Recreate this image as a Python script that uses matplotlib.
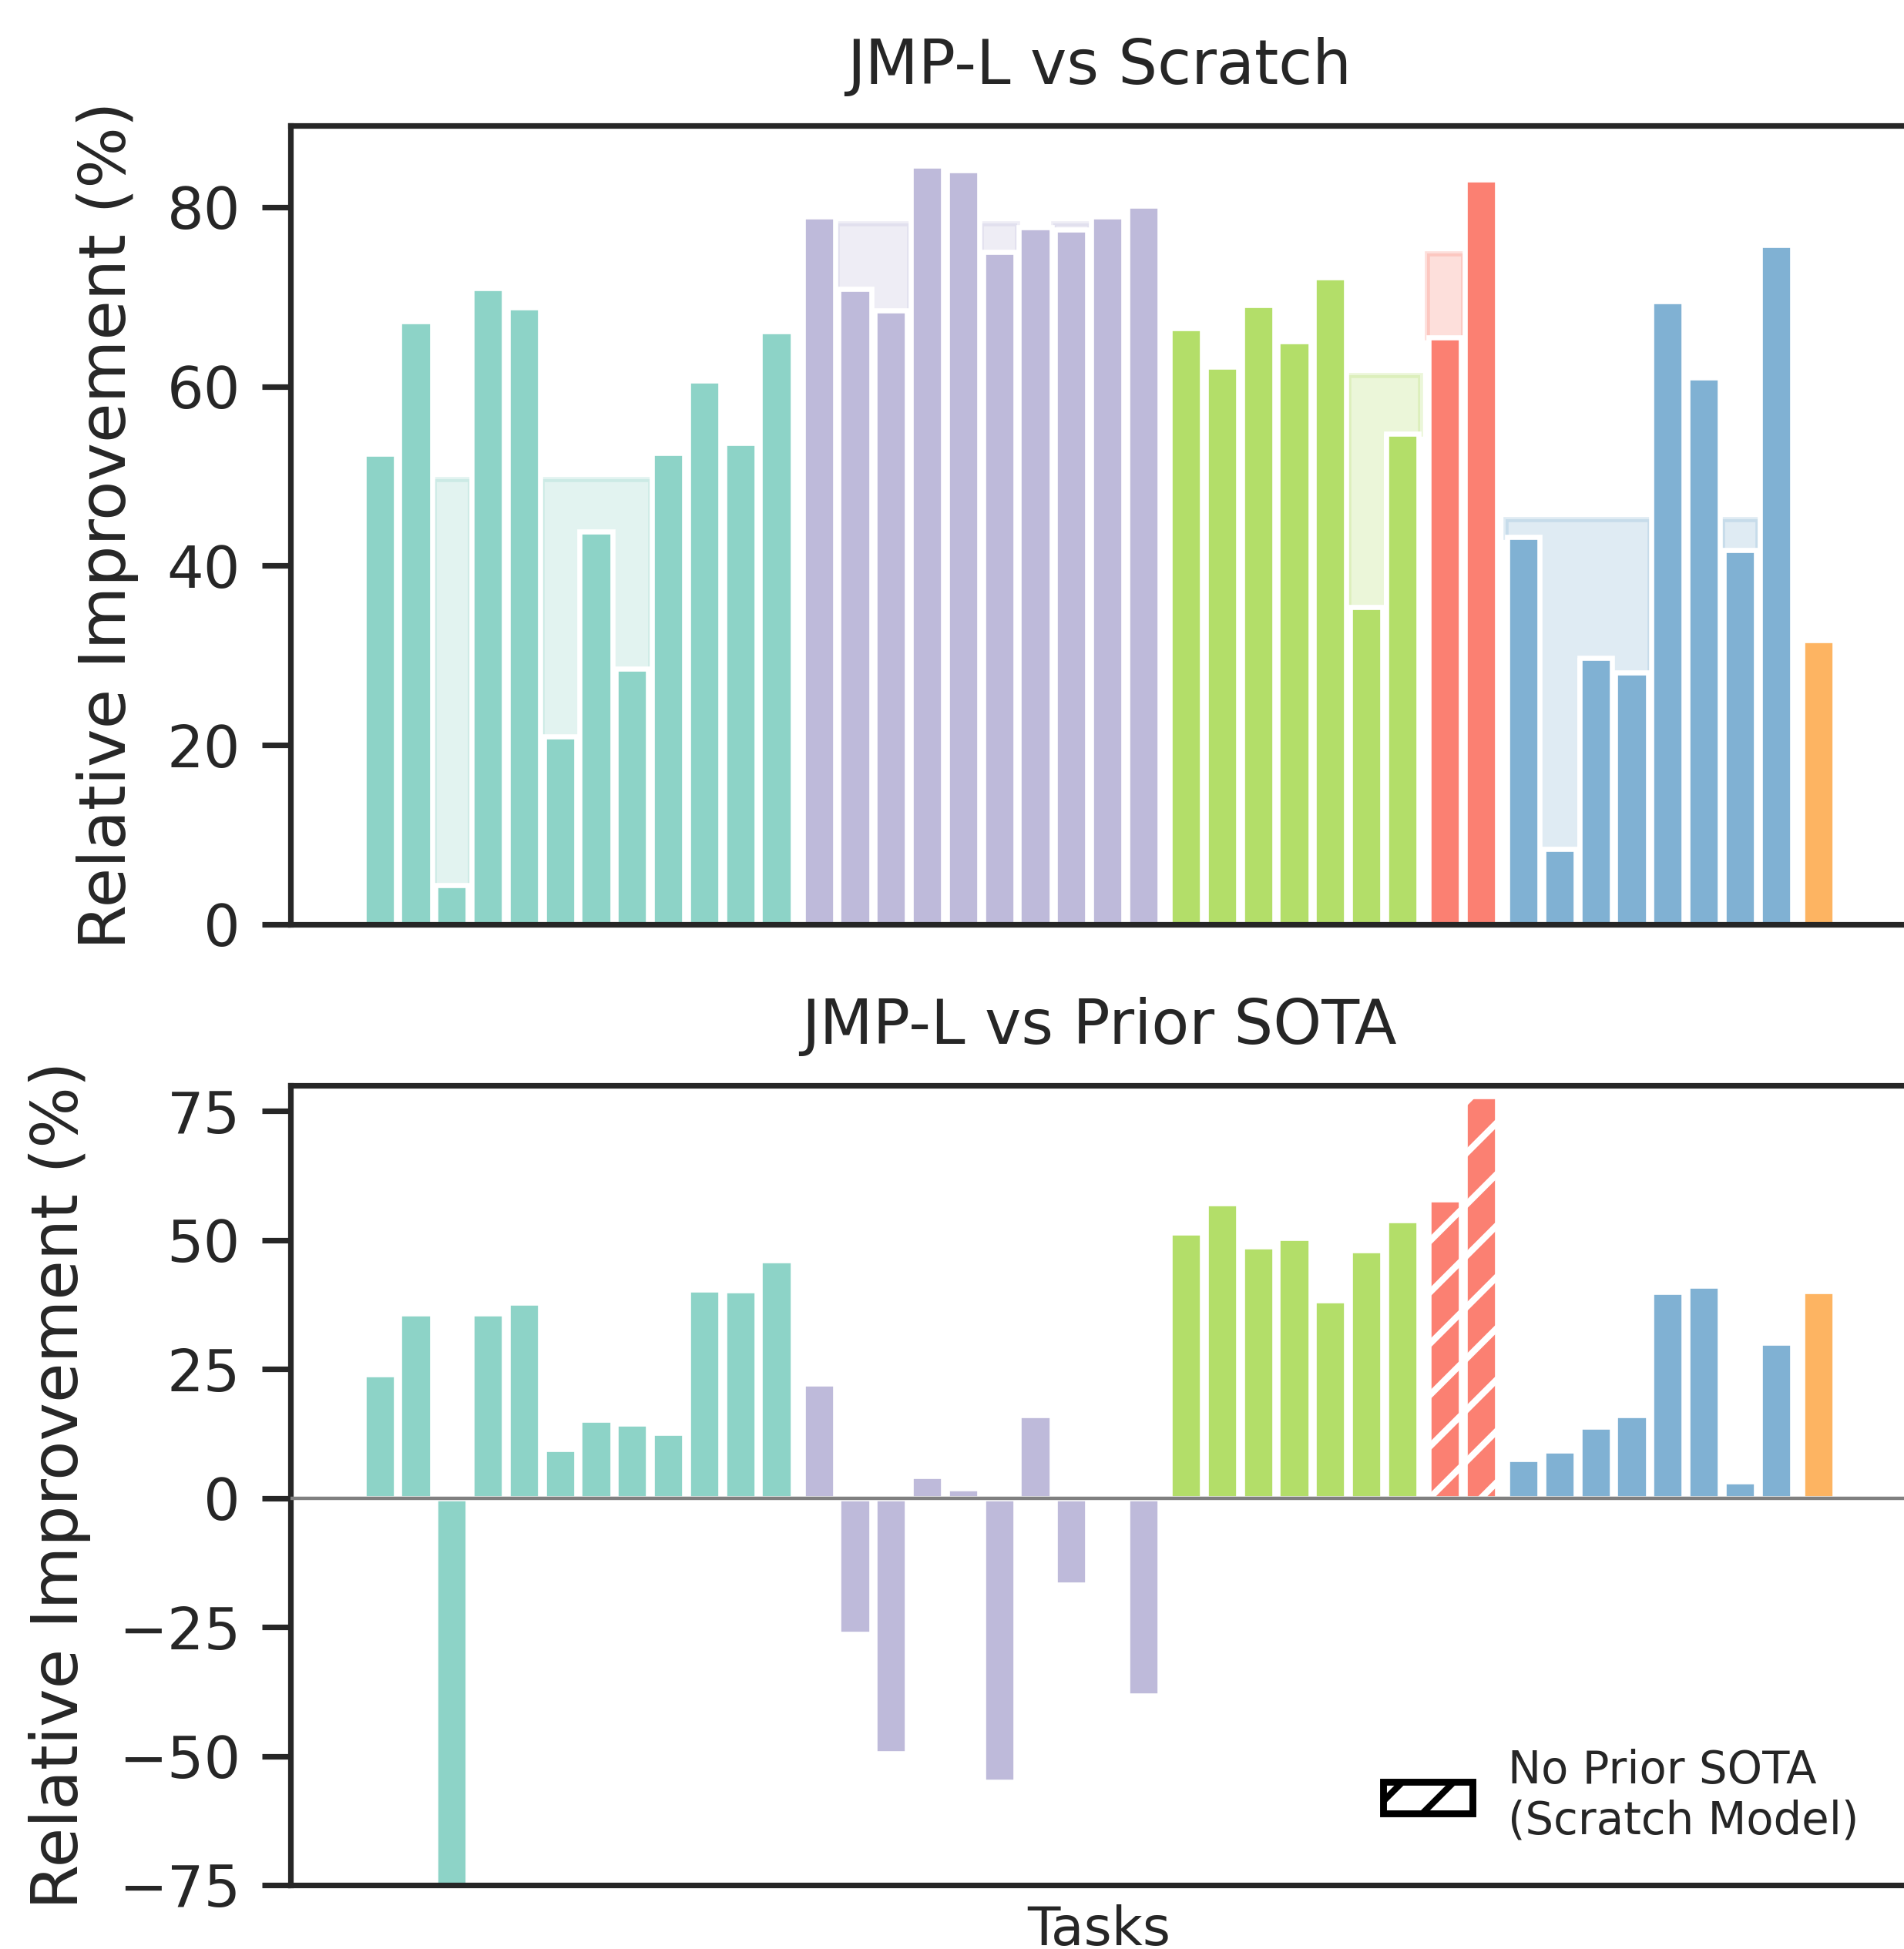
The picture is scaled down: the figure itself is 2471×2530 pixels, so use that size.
import numpy as np
import matplotlib
matplotlib.use("Agg")
import matplotlib.pyplot as plt
from matplotlib.patches import Patch

# relative improvement of JMP-L over scratch / prior SOTA, per dataset
qm9_scratch = [52.5, 67.3, 4.4, 71.0, 68.8, 21.0, 43.8, 28.5, 52.6, 60.7, 53.7, 66.2]
md17_scratch = [79.0, 70.9, 68.5, 84.6, 84.1, 75.0, 77.8, 77.5, 79.0, 80.2]
md22_scratch = [66.5, 62.2, 69.1, 65.0, 72.2, 35.4, 54.7]
spice_scratch = [65.5, 83.1]
matbench_scratch = [43.2, 8.4, 29.7, 28.1, 69.5, 61.0, 41.8, 75.8]
qmof_scratch = [31.7]

# shaded reference level shown behind the scratch bars (nan = none)
nan = np.nan
qm9_shade = [nan, nan, 49.7, nan, nan, 49.7, 49.7, 49.7, nan, nan, nan, nan]
md17_shade = [nan, 78.2, 78.2, nan, nan, 78.2, nan, 78.2, nan, nan]
md22_shade = [nan, nan, nan, nan, nan, 61.3, 61.3]
spice_shade = [74.8, nan]
matbench_shade = [45.2, 45.2, 45.2, 45.2, nan, nan, 45.2, nan]
qmof_shade = [nan]

qm9_sota = [24.0, 35.8, -80.0, 35.8, 37.8, 9.5, 15.2, 14.5, 12.7, 40.4, 40.2, 46.1]
md17_sota = [22.2, -26.4, -49.4, 4.3, 1.9, -55.0, 16.1, -16.7, 0.0, -38.3]
md22_sota = [51.5, 57.2, 48.8, 50.4, 38.3, 48.0, 53.9]
spice_sota = [57.9, 77.9]
matbench_sota = [7.5, 9.2, 13.9, 16.1, 40.0, 41.1, 3.2, 30.1]
qmof_sota = [40.1]

no_prior_sota = ["spice"]

datasets = ["qm9", "md17", "md22", "spice", "matbench", "qmof"]
colors = {"qm9": "#8dd3c7", "md17": "#bebada", "md22": "#b3de69",
          "spice": "#fb8072", "matbench": "#80b1d3", "qmof": "#fdb462"}
scratch = {"qm9": qm9_scratch, "md17": md17_scratch, "md22": md22_scratch,
           "spice": spice_scratch, "matbench": matbench_scratch, "qmof": qmof_scratch}
shade = {"qm9": qm9_shade, "md17": md17_shade, "md22": md22_shade,
         "spice": spice_shade, "matbench": matbench_shade, "qmof": qmof_shade}
sota = {"qm9": qm9_sota, "md17": md17_sota, "md22": md22_sota,
        "spice": spice_sota, "matbench": matbench_sota, "qmof": qmof_sota}

GROUP_GAP = 0.18
BAR_W = 0.9
TXT = "#262626"

plt.rcParams.update({
    "font.family": "DejaVu Sans",
    "text.color": TXT,
    "axes.labelcolor": TXT,
    "axes.edgecolor": TXT,
    "axes.linewidth": 1.3,
    "ytick.color": TXT,
    "ytick.major.size": 6.7,
    "ytick.major.width": 1.3,
    "ytick.major.pad": 5,
    "ytick.labelsize": 13.5,
    "hatch.linewidth": 1.5,
})

# x positions: unit step inside a dataset, a bit wider step between datasets
positions = {}
x = 0.0
for k, name in enumerate(datasets):
    if k > 0:
        x += GROUP_GAP
    n = len(scratch[name])
    positions[name] = x + np.arange(n)
    x += n


def shade_runs(sh):
    # contiguous stretches of tasks sharing the same shaded level
    runs, start = [], None
    for i in range(len(sh) + 1):
        ok = i < len(sh) and not np.isnan(sh[i])
        if ok and start is not None and sh[i] != sh[start]:
            runs.append((start, i - 1))
            start = i
        elif ok and start is None:
            start = i
        elif not ok and start is not None:
            runs.append((start, i - 1))
            start = None
    return runs


W, H = 2471, 2530
fig = plt.figure(figsize=(W / 400, H / 400), dpi=400)
ax1 = fig.add_axes([377 / W, 1 - 1200 / H, (2476 - 377) / W, (1200 - 163) / H])
ax2 = fig.add_axes([377 / W, 1 - 2447 / H, (2476 - 377) / W, (2447 - 1409.5) / H])

# top: vs scratch
for name in datasets:
    xs = positions[name]
    vals = np.array(scratch[name])
    sh = np.array(shade[name])
    c = colors[name]
    m = ~np.isnan(sh)
    if m.any():
        ax1.bar(xs[m], sh[m] - vals[m], bottom=vals[m], width=1.0,
                color=c, alpha=0.25, linewidth=0, zorder=1)
        for a, b in shade_runs(sh):
            ax1.plot([xs[a] - 0.5, xs[a] - 0.5, xs[b] + 0.5, xs[b] + 0.5],
                     [vals[a], sh[a], sh[a], vals[b]], color=c, alpha=0.25,
                     linewidth=1.2, solid_joinstyle="miter", zorder=1)
    ax1.bar(xs, vals, width=BAR_W, color=c, edgecolor="white",
            linewidth=1.2, zorder=2)

# bottom: vs prior SOTA
for name in datasets:
    xs = positions[name]
    vals = np.array(sota[name])
    ax2.bar(xs, vals, width=BAR_W, color=colors[name], edgecolor="white",
            linewidth=1.2, hatch="//" if name in no_prior_sota else None, zorder=2)
ax2.axhline(0, color="gray", linewidth=0.8, zorder=3)

for ax in (ax1, ax2):
    ax.set_xlim(-2.472, 42.38)
    ax.set_xticks([])
    ax.set_ylabel("Relative Improvement (%)", fontsize=15.1, labelpad=6.5)

ax1.set_ylim(0, 89.1)
ax1.set_yticks([0, 20, 40, 60, 80])
ax1.set_title("JMP-L vs Scratch", fontsize=14.4, pad=9.8)

ax2.set_ylim(-75, 79.9)
ax2.set_yticks([-75, -50, -25, 0, 25, 50, 75])
ax2.set_title("JMP-L vs Prior SOTA", fontsize=14.4, pad=9.8)
ax2.set_xlabel("Tasks", fontsize=12.5, labelpad=4.5)

handle = Patch(facecolor="white", edgecolor="black", hatch="//", linewidth=1.6)
ax2.legend([handle], ["No Prior SOTA\n(Scratch Model)"], loc="center left",
           bbox_to_anchor=(1795 / W, 1 - 2331 / H), bbox_transform=fig.transFigure,
           frameon=False, borderpad=0, borderaxespad=0, fontsize=10.4,
           handlelength=2.0, handletextpad=0.8)

fig.savefig("out.png", dpi=400)
